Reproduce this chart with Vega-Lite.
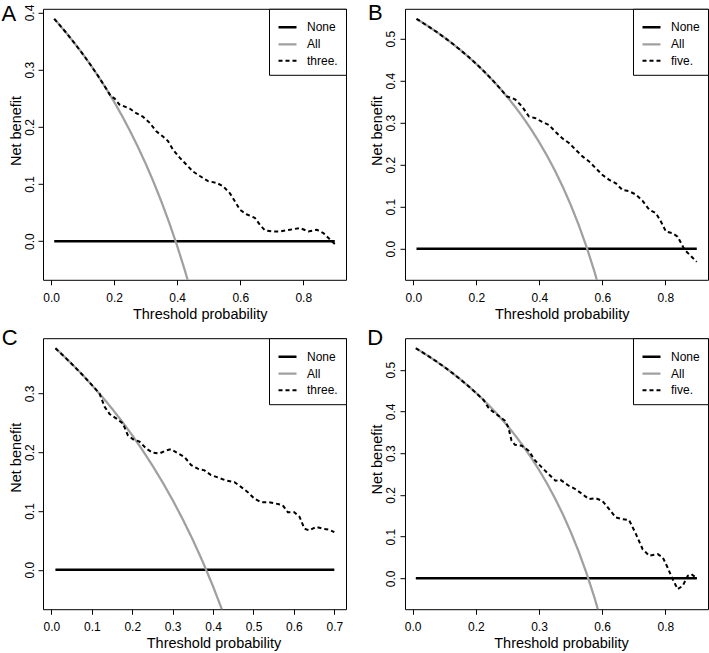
{
  "$schema": "https://vega.github.io/schema/vega-lite/v6.json",
  "padding": {"left": 0, "top": 0.8, "right": 0, "bottom": 0},
  "background": "white",
  "config": {
    "font": "Liberation Sans",
    "view": {"stroke": "black", "strokeWidth": 1},
    "axis": {"domain": false, "grid": false, "tickColor": "black", "tickSize": 5, "tickWidth": 1, "labelColor": "black", "labelFontSize": 12, "titleColor": "black", "titleFontSize": 14.5, "titleFontWeight": "normal", "labelFlush": false, "labelOverlap": false},
    "axisX": {"labelBaseline": "alphabetic", "labelPadding": 16.7, "labelAngle": 0, "titleBaseline": "alphabetic", "titleY": 38.5},
    "axisY": {"labelAngle": 270, "labelAlign": "center", "labelBaseline": "alphabetic", "labelPadding": 5, "titleBaseline": "alphabetic", "titleAngle": 270, "titleX": -23},
    "legend": {"orient": "top-right", "offset": 0, "strokeColor": "black", "fillColor": "white", "padding": 8, "labelFontSize": 12, "labelColor": "black", "symbolType": "stroke", "symbolSize": 324, "rowPadding": 0, "labelOffset": 9, "cornerRadius": 0},
    "title": {"anchor": "start", "frame": "group", "fontSize": 22, "fontWeight": "normal", "color": "black", "baseline": "alphabetic", "offset": 0}
  },
  "datasets": {
    "dA": [
      {"x": 0.01, "y": 0, "s": "None"}, {"x": 0.9, "y": 0, "s": "None"},
      {"x": 0.01, "y": 0.3889, "s": "All"}, {"x": 0.025, "y": 0.3795, "s": "All"}, {"x": 0.05, "y": 0.3632, "s": "All"}, {"x": 0.075, "y": 0.3459, "s": "All"}, {"x": 0.1, "y": 0.3278, "s": "All"}, {"x": 0.125, "y": 0.3086, "s": "All"}, {"x": 0.15, "y": 0.2882, "s": "All"}, {"x": 0.175, "y": 0.2667, "s": "All"}, {"x": 0.2, "y": 0.2438, "s": "All"}, {"x": 0.225, "y": 0.2194, "s": "All"}, {"x": 0.25, "y": 0.1933, "s": "All"}, {"x": 0.275, "y": 0.1655, "s": "All"}, {"x": 0.3, "y": 0.1357, "s": "All"}, {"x": 0.325, "y": 0.1037, "s": "All"}, {"x": 0.35, "y": 0.0692, "s": "All"}, {"x": 0.375, "y": 0.032, "s": "All"}, {"x": 0.4, "y": -0.0083, "s": "All"}, {"x": 0.425, "y": -0.0522, "s": "All"}, {"x": 0.45, "y": -0.1, "s": "All"},
      {"x": 0.01, "y": 0.3889, "s": "three."}, {"x": 0.025, "y": 0.3795, "s": "three."}, {"x": 0.05, "y": 0.3632, "s": "three."}, {"x": 0.075, "y": 0.3459, "s": "three."}, {"x": 0.1, "y": 0.3278, "s": "three."}, {"x": 0.125, "y": 0.3086, "s": "three."}, {"x": 0.15, "y": 0.2882, "s": "three."}, {"x": 0.175, "y": 0.2667, "s": "three."}, {"x": 0.19, "y": 0.2531, "s": "three."}, {"x": 0.201, "y": 0.25, "s": "three."}, {"x": 0.217, "y": 0.239, "s": "three."}, {"x": 0.249, "y": 0.232, "s": "three."}, {"x": 0.27, "y": 0.224, "s": "three."}, {"x": 0.291, "y": 0.218, "s": "three."}, {"x": 0.313, "y": 0.207, "s": "three."}, {"x": 0.334, "y": 0.192, "s": "three."}, {"x": 0.355, "y": 0.183, "s": "three."}, {"x": 0.371, "y": 0.175, "s": "three."}, {"x": 0.387, "y": 0.16, "s": "three."}, {"x": 0.408, "y": 0.146, "s": "three."}, {"x": 0.429, "y": 0.134, "s": "three."}, {"x": 0.45, "y": 0.122, "s": "three."}, {"x": 0.472, "y": 0.114, "s": "three."}, {"x": 0.498, "y": 0.105, "s": "three."}, {"x": 0.525, "y": 0.102, "s": "three."}, {"x": 0.546, "y": 0.096, "s": "three."}, {"x": 0.567, "y": 0.084, "s": "three."}, {"x": 0.583, "y": 0.07, "s": "three."}, {"x": 0.599, "y": 0.055, "s": "three."}, {"x": 0.62, "y": 0.047, "s": "three."}, {"x": 0.646, "y": 0.041, "s": "three."}, {"x": 0.662, "y": 0.029, "s": "three."}, {"x": 0.678, "y": 0.019, "s": "three."}, {"x": 0.7, "y": 0.017, "s": "three."}, {"x": 0.726, "y": 0.017, "s": "three."}, {"x": 0.758, "y": 0.02, "s": "three."}, {"x": 0.79, "y": 0.023, "s": "three."}, {"x": 0.816, "y": 0.017, "s": "three."}, {"x": 0.843, "y": 0.02, "s": "three."}, {"x": 0.864, "y": 0.014, "s": "three."}, {"x": 0.885, "y": 0.003, "s": "three."}, {"x": 0.9, "y": -0.005, "s": "three."}
    ],
    "dB": [
      {"x": 0.01, "y": 0, "s": "None"}, {"x": 0.9, "y": 0, "s": "None"},
      {"x": 0.01, "y": 0.5475, "s": "All"}, {"x": 0.025, "y": 0.5405, "s": "All"}, {"x": 0.05, "y": 0.5284, "s": "All"}, {"x": 0.075, "y": 0.5157, "s": "All"}, {"x": 0.1, "y": 0.5022, "s": "All"}, {"x": 0.125, "y": 0.488, "s": "All"}, {"x": 0.15, "y": 0.4729, "s": "All"}, {"x": 0.175, "y": 0.457, "s": "All"}, {"x": 0.2, "y": 0.44, "s": "All"}, {"x": 0.225, "y": 0.4219, "s": "All"}, {"x": 0.25, "y": 0.4027, "s": "All"}, {"x": 0.275, "y": 0.3821, "s": "All"}, {"x": 0.3, "y": 0.36, "s": "All"}, {"x": 0.325, "y": 0.3363, "s": "All"}, {"x": 0.35, "y": 0.3108, "s": "All"}, {"x": 0.375, "y": 0.2832, "s": "All"}, {"x": 0.4, "y": 0.2533, "s": "All"}, {"x": 0.425, "y": 0.2209, "s": "All"}, {"x": 0.45, "y": 0.1855, "s": "All"}, {"x": 0.475, "y": 0.1467, "s": "All"}, {"x": 0.5, "y": 0.104, "s": "All"}, {"x": 0.525, "y": 0.0568, "s": "All"}, {"x": 0.55, "y": 0.0044, "s": "All"}, {"x": 0.575, "y": -0.0541, "s": "All"}, {"x": 0.6, "y": -0.12, "s": "All"},
      {"x": 0.01, "y": 0.5475, "s": "five."}, {"x": 0.025, "y": 0.5405, "s": "five."}, {"x": 0.05, "y": 0.5284, "s": "five."}, {"x": 0.075, "y": 0.5157, "s": "five."}, {"x": 0.1, "y": 0.5022, "s": "five."}, {"x": 0.125, "y": 0.488, "s": "five."}, {"x": 0.15, "y": 0.4729, "s": "five."}, {"x": 0.175, "y": 0.457, "s": "five."}, {"x": 0.2, "y": 0.44, "s": "five."}, {"x": 0.225, "y": 0.4219, "s": "five."}, {"x": 0.25, "y": 0.4027, "s": "five."}, {"x": 0.275, "y": 0.3821, "s": "five."}, {"x": 0.297, "y": 0.3627, "s": "five."}, {"x": 0.313, "y": 0.359, "s": "five."}, {"x": 0.324, "y": 0.355, "s": "five."}, {"x": 0.345, "y": 0.339, "s": "five."}, {"x": 0.367, "y": 0.315, "s": "five."}, {"x": 0.388, "y": 0.311, "s": "five."}, {"x": 0.409, "y": 0.302, "s": "five."}, {"x": 0.43, "y": 0.295, "s": "five."}, {"x": 0.452, "y": 0.278, "s": "five."}, {"x": 0.473, "y": 0.263, "s": "five."}, {"x": 0.494, "y": 0.252, "s": "five."}, {"x": 0.515, "y": 0.236, "s": "five."}, {"x": 0.537, "y": 0.22, "s": "five."}, {"x": 0.558, "y": 0.208, "s": "five."}, {"x": 0.579, "y": 0.192, "s": "five."}, {"x": 0.6, "y": 0.176, "s": "five."}, {"x": 0.622, "y": 0.164, "s": "five."}, {"x": 0.643, "y": 0.156, "s": "five."}, {"x": 0.664, "y": 0.14, "s": "five."}, {"x": 0.685, "y": 0.137, "s": "five."}, {"x": 0.707, "y": 0.129, "s": "five."}, {"x": 0.728, "y": 0.114, "s": "five."}, {"x": 0.749, "y": 0.093, "s": "five."}, {"x": 0.77, "y": 0.085, "s": "five."}, {"x": 0.786, "y": 0.065, "s": "five."}, {"x": 0.802, "y": 0.041, "s": "five."}, {"x": 0.823, "y": 0.037, "s": "five."}, {"x": 0.839, "y": 0.029, "s": "five."}, {"x": 0.861, "y": -0.002, "s": "five."}, {"x": 0.882, "y": -0.018, "s": "five."}, {"x": 0.9, "y": -0.031, "s": "five."}
    ],
    "dC": [
      {"x": 0.01, "y": 0, "s": "None"}, {"x": 0.7, "y": 0, "s": "None"},
      {"x": 0.01, "y": 0.3768, "s": "All"}, {"x": 0.025, "y": 0.3672, "s": "All"}, {"x": 0.05, "y": 0.3505, "s": "All"}, {"x": 0.075, "y": 0.333, "s": "All"}, {"x": 0.1, "y": 0.3144, "s": "All"}, {"x": 0.125, "y": 0.2949, "s": "All"}, {"x": 0.15, "y": 0.2741, "s": "All"}, {"x": 0.175, "y": 0.2521, "s": "All"}, {"x": 0.2, "y": 0.2288, "s": "All"}, {"x": 0.225, "y": 0.2039, "s": "All"}, {"x": 0.25, "y": 0.1773, "s": "All"}, {"x": 0.275, "y": 0.149, "s": "All"}, {"x": 0.3, "y": 0.1186, "s": "All"}, {"x": 0.325, "y": 0.0859, "s": "All"}, {"x": 0.35, "y": 0.0508, "s": "All"}, {"x": 0.375, "y": 0.0128, "s": "All"}, {"x": 0.4, "y": -0.0283, "s": "All"}, {"x": 0.425, "y": -0.073, "s": "All"}, {"x": 0.45, "y": -0.1218, "s": "All"},
      {"x": 0.01, "y": 0.3768, "s": "three."}, {"x": 0.025, "y": 0.3672, "s": "three."}, {"x": 0.05, "y": 0.3505, "s": "three."}, {"x": 0.075, "y": 0.333, "s": "three."}, {"x": 0.1, "y": 0.3144, "s": "three."}, {"x": 0.119, "y": 0.3, "s": "three."}, {"x": 0.132, "y": 0.277, "s": "three."}, {"x": 0.144, "y": 0.265, "s": "three."}, {"x": 0.161, "y": 0.257, "s": "three."}, {"x": 0.177, "y": 0.249, "s": "three."}, {"x": 0.189, "y": 0.229, "s": "three."}, {"x": 0.202, "y": 0.222, "s": "three."}, {"x": 0.218, "y": 0.218, "s": "three."}, {"x": 0.235, "y": 0.206, "s": "three."}, {"x": 0.251, "y": 0.199, "s": "three."}, {"x": 0.268, "y": 0.198, "s": "three."}, {"x": 0.284, "y": 0.203, "s": "three."}, {"x": 0.296, "y": 0.205, "s": "three."}, {"x": 0.313, "y": 0.198, "s": "three."}, {"x": 0.329, "y": 0.192, "s": "three."}, {"x": 0.346, "y": 0.178, "s": "three."}, {"x": 0.362, "y": 0.172, "s": "three."}, {"x": 0.379, "y": 0.169, "s": "three."}, {"x": 0.395, "y": 0.161, "s": "three."}, {"x": 0.412, "y": 0.157, "s": "three."}, {"x": 0.432, "y": 0.152, "s": "three."}, {"x": 0.453, "y": 0.149, "s": "three."}, {"x": 0.469, "y": 0.141, "s": "three."}, {"x": 0.486, "y": 0.132, "s": "three."}, {"x": 0.502, "y": 0.121, "s": "three."}, {"x": 0.519, "y": 0.115, "s": "three."}, {"x": 0.539, "y": 0.115, "s": "three."}, {"x": 0.556, "y": 0.1125, "s": "three."}, {"x": 0.572, "y": 0.11, "s": "three."}, {"x": 0.585, "y": 0.098, "s": "three."}, {"x": 0.601, "y": 0.098, "s": "three."}, {"x": 0.614, "y": 0.09, "s": "three."}, {"x": 0.626, "y": 0.07, "s": "three."}, {"x": 0.638, "y": 0.067, "s": "three."}, {"x": 0.655, "y": 0.073, "s": "three."}, {"x": 0.671, "y": 0.07, "s": "three."}, {"x": 0.688, "y": 0.068, "s": "three."}, {"x": 0.7, "y": 0.064, "s": "three."}
    ],
    "dD": [
      {"x": 0.01, "y": 0, "s": "None"}, {"x": 0.9, "y": 0, "s": "None"},
      {"x": 0.01, "y": 0.5515, "s": "All"}, {"x": 0.025, "y": 0.5446, "s": "All"}, {"x": 0.05, "y": 0.5326, "s": "All"}, {"x": 0.075, "y": 0.52, "s": "All"}, {"x": 0.1, "y": 0.5067, "s": "All"}, {"x": 0.125, "y": 0.4926, "s": "All"}, {"x": 0.15, "y": 0.4776, "s": "All"}, {"x": 0.175, "y": 0.4618, "s": "All"}, {"x": 0.2, "y": 0.445, "s": "All"}, {"x": 0.225, "y": 0.4271, "s": "All"}, {"x": 0.25, "y": 0.408, "s": "All"}, {"x": 0.275, "y": 0.3876, "s": "All"}, {"x": 0.3, "y": 0.3657, "s": "All"}, {"x": 0.325, "y": 0.3422, "s": "All"}, {"x": 0.35, "y": 0.3169, "s": "All"}, {"x": 0.375, "y": 0.2896, "s": "All"}, {"x": 0.4, "y": 0.26, "s": "All"}, {"x": 0.425, "y": 0.2278, "s": "All"}, {"x": 0.45, "y": 0.1927, "s": "All"}, {"x": 0.475, "y": 0.1543, "s": "All"}, {"x": 0.5, "y": 0.112, "s": "All"}, {"x": 0.525, "y": 0.0653, "s": "All"}, {"x": 0.55, "y": 0.0133, "s": "All"}, {"x": 0.575, "y": -0.0447, "s": "All"}, {"x": 0.6, "y": -0.11, "s": "All"},
      {"x": 0.01, "y": 0.5515, "s": "five."}, {"x": 0.025, "y": 0.5446, "s": "five."}, {"x": 0.05, "y": 0.5326, "s": "five."}, {"x": 0.075, "y": 0.52, "s": "five."}, {"x": 0.1, "y": 0.5067, "s": "five."}, {"x": 0.125, "y": 0.4926, "s": "five."}, {"x": 0.15, "y": 0.4776, "s": "five."}, {"x": 0.175, "y": 0.4618, "s": "five."}, {"x": 0.2, "y": 0.445, "s": "five."}, {"x": 0.225, "y": 0.4271, "s": "five."}, {"x": 0.239, "y": 0.41, "s": "five."}, {"x": 0.25, "y": 0.402, "s": "five."}, {"x": 0.271, "y": 0.39, "s": "five."}, {"x": 0.292, "y": 0.378, "s": "five."}, {"x": 0.303, "y": 0.362, "s": "five."}, {"x": 0.313, "y": 0.33, "s": "five."}, {"x": 0.324, "y": 0.32, "s": "five."}, {"x": 0.345, "y": 0.318, "s": "five."}, {"x": 0.367, "y": 0.306, "s": "five."}, {"x": 0.388, "y": 0.282, "s": "five."}, {"x": 0.409, "y": 0.266, "s": "five."}, {"x": 0.43, "y": 0.25, "s": "five."}, {"x": 0.452, "y": 0.234, "s": "five."}, {"x": 0.468, "y": 0.236, "s": "five."}, {"x": 0.494, "y": 0.222, "s": "five."}, {"x": 0.515, "y": 0.214, "s": "five."}, {"x": 0.537, "y": 0.202, "s": "five."}, {"x": 0.558, "y": 0.19, "s": "five."}, {"x": 0.579, "y": 0.192, "s": "five."}, {"x": 0.6, "y": 0.186, "s": "five."}, {"x": 0.622, "y": 0.166, "s": "five."}, {"x": 0.643, "y": 0.146, "s": "five."}, {"x": 0.664, "y": 0.142, "s": "five."}, {"x": 0.685, "y": 0.14, "s": "five."}, {"x": 0.707, "y": 0.106, "s": "five."}, {"x": 0.728, "y": 0.07, "s": "five."}, {"x": 0.749, "y": 0.054, "s": "five."}, {"x": 0.776, "y": 0.058, "s": "five."}, {"x": 0.792, "y": 0.05, "s": "five."}, {"x": 0.807, "y": 0.026, "s": "five."}, {"x": 0.823, "y": -0.002, "s": "five."}, {"x": 0.839, "y": -0.026, "s": "five."}, {"x": 0.855, "y": -0.018, "s": "five."}, {"x": 0.871, "y": 0.006, "s": "five."}, {"x": 0.882, "y": 0.01, "s": "five."}, {"x": 0.9, "y": 0.0, "s": "five."}
    ]
  },
  "columns": 2,
  "spacing": {"row": 58.4, "column": 59},
  "bounds": "flush",
  "resolve": {
    "scale": {"x": "independent", "y": "independent", "color": "independent", "strokeDash": "independent", "strokeWidth": "independent"},
    "legend": {"color": "independent", "strokeDash": "independent", "strokeWidth": "independent"}
  },
  "concat": [
    {
      "width": 303, "height": 271,
      "title": {"text": "A", "dx": -41.6, "dy": 26},
      "data": {"name": "dA"},
      "encoding": {
        "x": {"field": "x", "type": "quantitative", "scale": {"domain": [-0.0256, 0.9356], "nice": false, "zero": false}, "axis": {"values": [0, 0.2, 0.4, 0.6, 0.8], "format": ".1f", "title": "Threshold probability", "titleX": 156.7}},
        "y": {"field": "y", "type": "quantitative", "scale": {"domain": [-0.0676, 0.4065], "nice": false, "zero": false}, "axis": {"values": [0, 0.1, 0.2, 0.3, 0.4], "format": ".1f", "title": "Net benefit", "titleY": 121.7}},
        "color": {"field": "s", "type": "nominal", "scale": {"domain": ["None", "All", "three."], "range": ["#000000", "#a0a0a0", "#000000"]}, "legend": {"title": null}},
        "strokeDash": {"field": "s", "type": "nominal", "scale": {"domain": ["None", "All", "three."], "range": [[1, 0], [1, 0], [4, 3]]}, "legend": {"title": null}},
        "strokeWidth": {"field": "s", "type": "nominal", "scale": {"domain": ["None", "All", "three."], "range": [2.5, 2, 1]}, "legend": {"title": null}}
      },
      "layer": [
        {"transform": [{"filter": "datum.s === 'None'"}], "mark": {"type": "line", "clip": true}},
        {"transform": [{"filter": "datum.s === 'All'"}], "mark": {"type": "line", "clip": true}},
        {"transform": [{"filter": "datum.s === 'three.'"}], "mark": {"type": "line", "clip": true}}
      ]
    },
    {
      "width": 303, "height": 271,
      "title": {"text": "B", "dx": -37, "dy": 20.4},
      "data": {"name": "dB"},
      "encoding": {
        "x": {"field": "x", "type": "quantitative", "scale": {"domain": [-0.0265, 0.9356], "nice": false, "zero": false}, "axis": {"values": [0, 0.2, 0.4, 0.6, 0.8], "format": ".1f", "title": "Threshold probability", "titleX": 156.7}},
        "y": {"field": "y", "type": "quantitative", "scale": {"domain": [-0.0739, 0.5714], "nice": false, "zero": false}, "axis": {"values": [0, 0.1, 0.2, 0.3, 0.4, 0.5], "format": ".1f", "title": "Net benefit", "titleY": 121.7}},
        "color": {"field": "s", "type": "nominal", "scale": {"domain": ["None", "All", "five."], "range": ["#000000", "#a0a0a0", "#000000"]}, "legend": {"title": null}},
        "strokeDash": {"field": "s", "type": "nominal", "scale": {"domain": ["None", "All", "five."], "range": [[1, 0], [1, 0], [4, 3]]}, "legend": {"title": null}},
        "strokeWidth": {"field": "s", "type": "nominal", "scale": {"domain": ["None", "All", "five."], "range": [2.5, 2, 1]}, "legend": {"title": null}}
      },
      "layer": [
        {"transform": [{"filter": "datum.s === 'None'"}], "mark": {"type": "line", "clip": true}},
        {"transform": [{"filter": "datum.s === 'All'"}], "mark": {"type": "line", "clip": true}},
        {"transform": [{"filter": "datum.s === 'five.'"}], "mark": {"type": "line", "clip": true}}
      ]
    },
    {
      "width": 303, "height": 271,
      "title": {"text": "C", "dx": -41.3, "dy": 16},
      "data": {"name": "dC"},
      "encoding": {
        "x": {"field": "x", "type": "quantitative", "scale": {"domain": [-0.0207, 0.7289], "nice": false, "zero": false}, "axis": {"values": [0, 0.1, 0.2, 0.3, 0.4, 0.5, 0.6, 0.7], "format": ".1f", "title": "Threshold probability", "titleX": 170.5}},
        "y": {"field": "y", "type": "quantitative", "scale": {"domain": [-0.0671, 0.3939], "nice": false, "zero": false}, "axis": {"values": [0, 0.1, 0.2, 0.3], "format": ".1f", "title": "Net benefit", "titleY": 119}},
        "color": {"field": "s", "type": "nominal", "scale": {"domain": ["None", "All", "three."], "range": ["#000000", "#a0a0a0", "#000000"]}, "legend": {"title": null}},
        "strokeDash": {"field": "s", "type": "nominal", "scale": {"domain": ["None", "All", "three."], "range": [[1, 0], [1, 0], [4, 3]]}, "legend": {"title": null}},
        "strokeWidth": {"field": "s", "type": "nominal", "scale": {"domain": ["None", "All", "three."], "range": [2.5, 2, 1]}, "legend": {"title": null}}
      },
      "layer": [
        {"transform": [{"filter": "datum.s === 'None'"}], "mark": {"type": "line", "clip": true}},
        {"transform": [{"filter": "datum.s === 'All'"}], "mark": {"type": "line", "clip": true}},
        {"transform": [{"filter": "datum.s === 'three.'"}], "mark": {"type": "line", "clip": true}}
      ]
    },
    {
      "width": 303, "height": 271,
      "title": {"text": "D", "dx": -37.7, "dy": 16},
      "data": {"name": "dD"},
      "encoding": {
        "x": {"field": "x", "type": "quantitative", "scale": {"domain": [-0.0242, 0.935], "nice": false, "zero": false}, "axis": {"values": [0, 0.2, 0.4, 0.6, 0.8], "labelExpr": "datum.value == 0.4 ? '0.3' : format(datum.value, '.1f')", "title": "Threshold probability", "titleX": 156}},
        "y": {"field": "y", "type": "quantitative", "scale": {"domain": [-0.074, 0.5756], "nice": false, "zero": false}, "axis": {"values": [0, 0.1, 0.2, 0.3, 0.4, 0.5], "format": ".1f", "title": "Net benefit", "titleY": 120.8}},
        "color": {"field": "s", "type": "nominal", "scale": {"domain": ["None", "All", "five."], "range": ["#000000", "#a0a0a0", "#000000"]}, "legend": {"title": null}},
        "strokeDash": {"field": "s", "type": "nominal", "scale": {"domain": ["None", "All", "five."], "range": [[1, 0], [1, 0], [4, 3]]}, "legend": {"title": null}},
        "strokeWidth": {"field": "s", "type": "nominal", "scale": {"domain": ["None", "All", "five."], "range": [2.5, 2, 1]}, "legend": {"title": null}}
      },
      "layer": [
        {"transform": [{"filter": "datum.s === 'None'"}], "mark": {"type": "line", "clip": true}},
        {"transform": [{"filter": "datum.s === 'All'"}], "mark": {"type": "line", "clip": true}},
        {"transform": [{"filter": "datum.s === 'five.'"}], "mark": {"type": "line", "clip": true}}
      ]
    }
  ]
}
